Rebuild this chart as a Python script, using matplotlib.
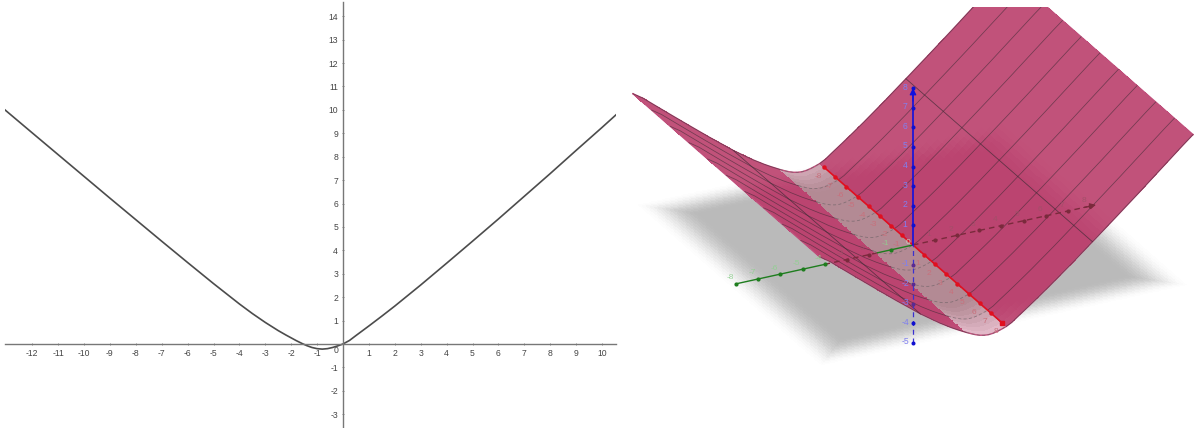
import matplotlib
matplotlib.use('Agg')
import matplotlib.pyplot as plt
import numpy as np

plt.rcParams['font.family'] = ['Liberation Sans', 'DejaVu Sans']
plt.rcParams['axes.unicode_minus'] = False

# left plot, values
curve_x = [-13.05, -12, -11, -10, -9, -8, -7, -6, -5, -4, -3.5, -3, -2.5, -2.2, -2, -1.8, -1.58, -1.4, -1.2, -1,
           -0.8, -0.6, -0.4, -0.2, 0, 0.25, 0.5, 1, 1.5, 2, 3, 4, 5, 6, 7, 8, 9, 10, 10.54]
curve_y = [10, 9.02, 8.09, 7.16, 6.23, 5.31, 4.39, 3.48, 2.58, 1.71, 1.3, 0.92, 0.57, 0.38, 0.26, 0.14, 0.02, -0.07,
           -0.15, -0.2, -0.22, -0.2, -0.15, -0.08, 0, 0.15, 0.36, 0.77, 1.19, 1.62, 2.52, 3.45, 4.39, 5.34, 6.31, 7.28,
           8.27, 9.25, 9.79]
x_ticks = [t for t in range(-12, 11) if t != 0]
y_ticks = [t for t in range(-3, 15) if t != 0]

# right plot, profile of the surface along the axis
surf_u = [-8.45, -8, -7, -6, -5, -4, -3.9, -3, -2.5, -2.2, -1.8, -1.58, -1.4, -1.2, -1, -0.8, -0.6, -0.4, -0.2, 0,
          0.25, 0.5, 1, 1.5, 2, 3, 3.9, 4, 5, 6, 7, 8, 8.45]
surf_w = [5.65, 5.31, 4.39, 3.48, 2.58, 1.71, 1.62, 0.92, 0.57, 0.38, 0.14, 0.02, -0.07, -0.15, -0.2, -0.22, -0.2,
          -0.15, -0.08, 0, 0.15, 0.36, 0.77, 1.19, 1.62, 2.52, 3.36, 3.45, 4.39, 5.34, 6.31, 7.28, 7.7]
v_lines = [-8.4, -6.72, -5.04, -3.36, -1.68, 0, 1.68, 3.36, 5.04, 6.72, 8.4]
u_lines = [-3.9, 3.9]
axis_ticks = [-8, -7, -6, -5, -4, -3, -2, -1, 1, 2, 3, 4, 5, 6, 7, 8]
z_ticks = [-5, -4, -3, -2, -1, 1, 2, 3, 4, 5, 6, 7, 8]


def proj(u, v, w):
    u, v, w = np.asarray(u, float), np.asarray(v, float), np.asarray(w, float)
    return 913 + 22.1*u + 11.1*v, 245 - 4.85*u + 9.7*v - 19.6*w


def plane_fade(u, v):
    edge = np.minimum(8.4 - np.abs(u), 8.4 - np.abs(v))
    f = np.clip(edge/2.0, 0, 1)
    return f*f*(3 - 2*f)


fig = plt.figure(figsize=(11.97, 4.28), dpi=100)

# ---- left ----
ax = fig.add_axes([5/1197, 0, 611/1197, 426/428])
ax.set_xlim(-13.05, 10.54)
ax.set_ylim(-3.59, 14.61)
for s in ['top', 'right']:
    ax.spines[s].set_visible(False)
for s in ['left', 'bottom']:
    ax.spines[s].set_position('zero')
    ax.spines[s].set_color('#777777')
    ax.spines[s].set_linewidth(1)
ax.set_xticks(x_ticks)
ax.set_yticks(y_ticks)
ax.tick_params(axis='both', labelsize=6.2, length=2, width=0.6, color='#777777',
               labelcolor='#444444', pad=2.5, direction='inout')
ax.text(-0.28, -0.3, '0', fontsize=6.2, color='#444444', ha='center', va='center')
ax.patch.set_alpha(0)
ax.plot(curve_x, curve_y, color='#4c4c4c', lw=1.2, solid_joinstyle='round')

# ---- right ----
ax2 = fig.add_axes([620/1197, 0, 577/1197, 421/428])
ax2.set_xlim(620, 1197)
ax2.set_ylim(428, 7)
ax2.axis('off')

# grey plane with soft edges, blended to white so cells do not overlap visibly
pu, pv = np.meshgrid(np.linspace(-8.4, 8.4, 141), np.linspace(-8.4, 8.4, 141))
px, py = proj(pu, pv, 0*pu)
cu, cv = (pu[:-1, :-1] + pu[1:, 1:])/2, (pv[:-1, :-1] + pv[1:, 1:])/2
plane = np.ones(cu.shape + (3,))
plane *= (1 - plane_fade(cu, cv)*0.27)[..., None]
ax2.pcolormesh(px, py, plane, shading='flat', zorder=1, antialiased=False, edgecolors='none')

# surface
v_min, v_max = -8.4, 8.4
band_edge = -1.8
su = np.array(surf_u)
sw = np.array(surf_w)
sv = np.linspace(v_min, v_max, 43)
# split long cells along u so that the shading under the surface stays smooth
fine = np.arange(len(su)*6 - 5)/6
U1 = np.interp(fine, np.arange(len(su)), su)
W1 = np.interp(fine, np.arange(len(su)), sw)
U, V = np.meshgrid(U1, sv)
W = np.tile(W1, (len(sv), 1))
X, Y = proj(U, V, W)
cell_u = (U[:-1, :-1] + U[1:, 1:])/2
cell_v = (V[:-1, :-1] + V[1:, 1:])/2
cell_x = (X[:-1, :-1] + X[1:, 1:])/2
cell_y = (Y[:-1, :-1] + Y[1:, 1:])/2

# plane point that lies behind each cell on screen
under_v = (4.85*(cell_x - 913) + 22.1*(cell_y - 245))/(4.85*11.1 + 22.1*9.7)
under_u = (cell_x - 913 - 11.1*under_v)/22.1
inside = (np.abs(under_u) < 8.4) & (np.abs(under_v) < 8.4)
shade = (plane_fade(under_u, under_v)*inside)[..., None]

col = (1 - shade)*np.array([193, 82, 122])/255 + shade*np.array([187, 68, 112])/255
band = (cell_u > band_edge) & (cell_u < 0)
t = np.clip((cell_v - 5.5)/2.9, 0, 1)[..., None]
t = np.maximum(t, np.clip((-cell_v - 6.5)/1.9, 0, 1)[..., None]*0.6)
band_col = (1 - t)*np.array([0.70, 0.54, 0.58]) + t*np.array([0.90, 0.74, 0.80])
col[band] = band_col[band]
ax2.pcolormesh(X, Y, col, shading='flat', zorder=2, antialiased=False, edgecolors='none')

# surface outline
for vv in [v_min, v_max]:
    ex, ey = proj(su, vv + 0*su, sw)
    ax2.plot(ex, ey, color='#c0507c', lw=1, zorder=3)
for i in [0, -1]:
    ex, ey = proj(su[i] + 0*sv, sv, sw[i] + 0*sv)
    ax2.plot(ex, ey, color='#c0507c', lw=1, zorder=3)

# mesh lines on the surface
for vv in v_lines:
    for mask, ls, c, a in [(su <= band_edge, '-', '#3c2a34', 0.6), (su >= 0, '-', '#3c2a34', 0.6),
                           ((su >= band_edge) & (su <= 0), (0, (4, 3)), '#6a6064', 0.7)]:
        ex, ey = proj(su[mask], vv + 0*su[mask], sw[mask])
        ax2.plot(ex, ey, color=c, lw=0.55, ls=ls, alpha=a, zorder=4)
for uu in u_lines:
    ex, ey = proj(uu + 0*sv, sv, sw[surf_u.index(uu)] + 0*sv)
    ax2.plot(ex, ey, color='#3c2a34', lw=0.6, alpha=0.7, zorder=4)

# green / dark red axis
green = '#1e7d1e'
dark = '#7a2a3c'
for a, b, c, ls in [(-8, -4, green, '-'), (-4, -1.6, dark, (0, (4, 3))), (-1.6, 0, green, '-'),
                    (0, 7.9, dark, (0, (4, 3)))]:
    ex, ey = proj([a, b], [0, 0], [0, 0])
    ax2.plot(ex, ey, color=c, ls=ls, lw=1, zorder=5)
ex, ey = proj([7.6, 8.4], [0, 0], [0, 0])
ax2.annotate('', xy=(ex[1], ey[1]), xytext=(ex[0], ey[0]), zorder=6,
             arrowprops=dict(arrowstyle='-|>', color=dark, lw=0.8, mutation_scale=9))
for t in axis_ticks:
    ex, ey = proj(t, 0, 0)
    on_green = t <= -4 or -1.6 <= t < 0
    ax2.plot(ex, ey, 'o', ms=2, color=green if on_green else dark, zorder=6)
    ax2.text(ex - 6, ey - 6, str(t), fontsize=6, ha='center', va='center', zorder=6,
             color='#90d090' if on_green else '#a05068', alpha=0.9)

# red axis
ex, ey = proj([0, 0], [-8, 8], [0, 0])
ax2.plot(ex, ey, color='#e01020', lw=1.2, zorder=6)
for t in axis_ticks:
    ex, ey = proj(0, t, 0)
    ax2.plot(ex, ey, 'o', ms=2.2, color='#e01020', zorder=7)
    ax2.text(ex - 6, ey + 9, str(t), fontsize=6, color='#c8707c', ha='center', va='center', zorder=6)
ex, ey = proj(0, 8, 0)
ax2.plot(ex, ey, 's', ms=3.2, color='#e01020', zorder=7)

# blue axis
ex, ey = proj([0, 0], [0, 0], [0, 7.8])
ax2.plot(ex, ey, color='#1010e0', lw=1.2, zorder=6)
ex, ey = proj([0, 0], [0, 0], [-5, 0])
ax2.plot(ex, ey, color='#3a30d0', lw=0.9, ls=(0, (4, 3)), zorder=6)
ex, ey = proj([0, 0], [0, 0], [7.2, 8.15])
ax2.annotate('', xy=(ex[1], ey[1]), xytext=(ex[0], ey[0]), zorder=7,
             arrowprops=dict(arrowstyle='-|>', color='#1010e0', lw=0.8, mutation_scale=10))
for t in z_ticks:
    ex, ey = proj(0, 0, t)
    c = '#5a2a90' if -3 <= t < 0 else '#1010d0'
    ax2.plot(ex, ey, 'o', ms=1.9, color=c, zorder=7)
    ax2.text(ex - 8, ey - 1, str(t), fontsize=6.2, color='#8080f0', ha='center', va='center', zorder=7)
ex, ey = proj(0, 0, 0)
ax2.text(ex - 5, ey - 3, '0', fontsize=6, color='#d0d0c0', ha='center', va='center', zorder=7)

fig.savefig('out.png', dpi=100)
